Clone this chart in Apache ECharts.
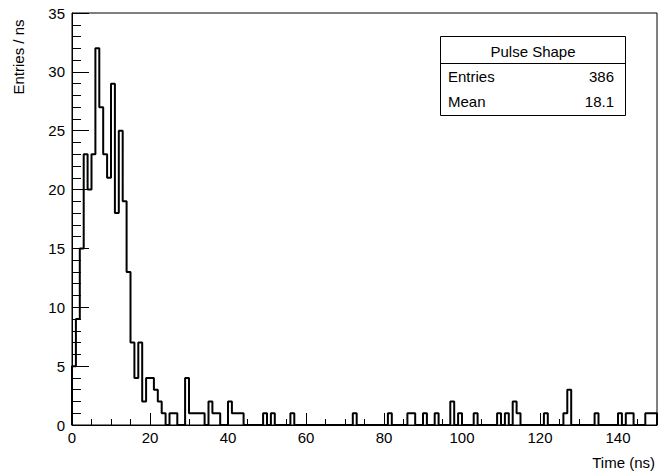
<!DOCTYPE html>
<html>
<head>
<meta charset="utf-8">
<script src="https://cdn.jsdelivr.net/npm/echarts@6/dist/echarts.min.js"></script>
<style>
html,body{margin:0;padding:0;background:#fff;}
#chart{width:658px;height:475px;}
</style>
</head>
<body>
<div id="chart"></div>
<script>
// Histogram: 150 bins of 1 ns, from 0 to 150 ns
const binLow = 0;
const binWidth = 1;
const counts = [
  5, 9, 15, 23, 20, 23, 32, 27, 23, 21,
  29, 18, 25, 19, 13, 7, 4, 7, 2, 4,
  4, 3, 2, 1, 0, 1, 1, 0, 0, 4,
  1, 1, 1, 1, 0, 2, 1, 1, 0, 0,
  2, 1, 1, 1, 0, 0, 0, 0, 0, 1,
  0, 1, 0, 0, 0, 0, 1, 0, 0, 0,
  0, 0, 0, 0, 0, 0, 0, 0, 0, 0,
  0, 0, 1, 0, 0, 0, 0, 0, 0, 0,
  0, 1, 0, 0, 0, 0, 1, 1, 0, 0,
  1, 0, 0, 1, 0, 0, 0, 2, 0, 1,
  0, 0, 0, 1, 0, 0, 0, 0, 0, 1,
  0, 1, 0, 2, 1, 0, 0, 0, 0, 0,
  0, 1, 0, 0, 0, 0, 1, 3, 0, 0,
  0, 0, 0, 0, 1, 0, 0, 0, 0, 0,
  1, 0, 1, 1, 0, 0, 0, 1, 1, 1
];
const xTickLabels = [0, 20, 40, 60, 80, 100, 120, 140];
const yTickLabels = [0, 5, 10, 15, 20, 25, 30, 35];
const statsTitle = 'Pulse Shape';
const statsRows = [['Entries', '386'], ['Mean', '18.1']];
const xTitle = 'Time (ns)';
const yTitle = 'Entries / ns';

const FONT = '"Liberation Sans", Arial, Helvetica, sans-serif';
const xMax = binLow + binWidth * counts.length;

// outline points (step)
const pts = [[binLow, 0]];
counts.forEach((c, i) => pts.push([binLow + i * binWidth, c]));
pts.push([xMax, counts[counts.length - 1]]);
pts.push([xMax, 0]);

const chart = echarts.init(document.getElementById('chart'), null, {renderer: 'svg'});

const gl = 72, gt = 13, gr = 1, gb = 50;

chart.setOption({
  animation: false,
  backgroundColor: '#fff',
  grid: {left: gl, top: gt, right: gr, bottom: gb, show: true, borderColor: '#000', borderWidth: 1, containLabel: false},
  xAxis: [{
    type: 'value', min: binLow, max: xMax, interval: 20,
    axisLine: {show: true, onZero: false, lineStyle: {color: '#000', width: 1}},
    axisTick: {show: true, inside: true, length: 12, lineStyle: {color: '#000', width: 1}},
    axisLabel: {show: true, color: '#000', fontFamily: FONT, fontSize: 15, margin: 5, showMaxLabel: false,
      formatter: v => xTickLabels.indexOf(v) >= 0 ? String(v) : ''},
    splitLine: {show: false}
  }, {
    type: 'value', min: binLow, max: xMax, interval: 5, position: 'bottom',
    axisLine: {show: false},
    axisTick: {show: true, inside: true, length: 6, lineStyle: {color: '#000', width: 1}},
    axisLabel: {show: false},
    splitLine: {show: false}
  }],
  yAxis: [{
    type: 'value', min: 0, max: 35, interval: 5,
    axisLine: {show: true, lineStyle: {color: '#000', width: 1}},
    axisTick: {show: true, inside: true, length: 17, lineStyle: {color: '#000', width: 1}},
    minorTick: {show: true, splitNumber: 5, length: 9, lineStyle: {color: '#000', width: 1}},
    axisLabel: {show: true, color: '#000', fontFamily: FONT, fontSize: 15, margin: 7,
      formatter: v => yTickLabels.indexOf(v) >= 0 ? String(v) : ''},
    splitLine: {show: false}
  }],
  series: [{
    type: 'line', xAxisIndex: 0, yAxisIndex: 0,
    data: pts, step: 'end', symbol: 'none', clip: true,
    lineStyle: {color: '#000', width: 2}
  }],
  graphic: [
    {type: 'text', x: 655, y: 462, style: {text: xTitle, font: '15px ' + FONT, fill: '#000', align: 'right', verticalAlign: 'middle'}},
    {type: 'text', x: 18, y: 57, rotation: Math.PI / 2, style: {text: yTitle, font: '15px ' + FONT, fill: '#000', align: 'center', verticalAlign: 'middle'}},
    {type: 'rect', shape: {x: 440.5, y: 36.5, width: 185, height: 79}, style: {fill: '#fff', stroke: '#000', lineWidth: 1}, z: 100},
    {type: 'line', shape: {x1: 440.5, y1: 63.5, x2: 625.5, y2: 63.5}, style: {stroke: '#000', lineWidth: 1}, z: 101},
    {type: 'text', x: 533, y: 51, z: 102, style: {text: statsTitle, font: '15px ' + FONT, fill: '#000', align: 'center', verticalAlign: 'middle'}},
    {type: 'text', x: 448, y: 76, z: 102, style: {text: statsRows[0][0], font: '15px ' + FONT, fill: '#000', align: 'left', verticalAlign: 'middle'}},
    {type: 'text', x: 614, y: 76, z: 102, style: {text: statsRows[0][1], font: '15px ' + FONT, fill: '#000', align: 'right', verticalAlign: 'middle'}},
    {type: 'text', x: 448, y: 101, z: 102, style: {text: statsRows[1][0], font: '15px ' + FONT, fill: '#000', align: 'left', verticalAlign: 'middle'}},
    {type: 'text', x: 614, y: 101, z: 102, style: {text: statsRows[1][1], font: '15px ' + FONT, fill: '#000', align: 'right', verticalAlign: 'middle'}}
  ]
});
</script>
</body>
</html>
